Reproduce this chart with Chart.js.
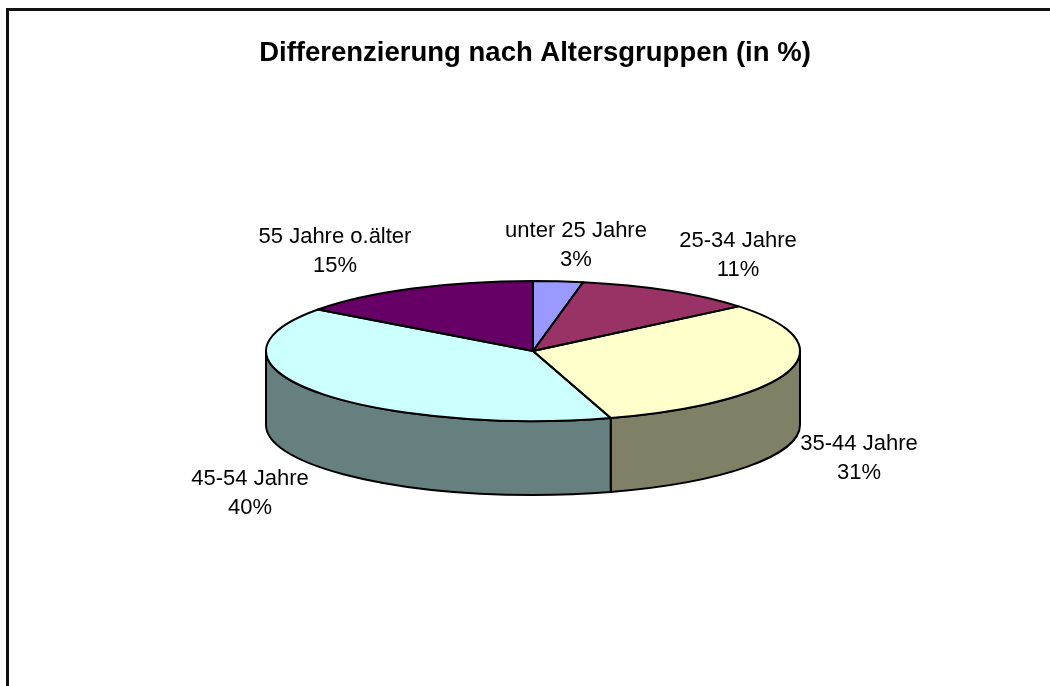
<!DOCTYPE html>
<html lang="de">
<head>
  <meta charset="UTF-8" />
  <title>Differenzierung nach Altersgruppen</title>
  <script src="https://cdn.jsdelivr.net/npm/chart.js"></script>
  <style>
    html, body { margin: 0; background: #fff; overflow: hidden; }
    canvas { display: block; }
  </style>
</head>
<body>
  <canvas id="grafico" width="1050" height="686"></canvas>

  <script>
    const titel = 'Differenzierung nach Altersgruppen (in %)';
    const gruppen = ['unter 25 Jahre', '25-34 Jahre', '35-44 Jahre', '45-54 Jahre', '55 Jahre o.älter'];
    // read from the slice edges, the labels show them rounded
    const anteile = [3, 11, 31.3, 39.8, 14.9];
    const farben = ['#9999ff', '#993366', '#ffffcc', '#ccffff', '#660066'];
    const seitenFarben = ['#4c4c80', '#4c1a33', '#808066', '#668080', '#330033'];

    // placement of the flattened pie and its labels
    const mitteX = 533, mitteY = 351;
    const radiusX = 267, radiusY = 70, tiefe = 74;
    const labelMitten = [[576, 231], [738, 241], [859, 444], [250, 479], [335, 237]];

    const pie3d = {
      id: 'pie3d',
      beforeDraw(chart) {
        // frame is only closed on top and left in the original
        const ctx = chart.ctx;
        ctx.fillStyle = '#111';
        ctx.fillRect(6, 8, 1044, 3);
        ctx.fillRect(6, 8, 3, 678);
      },
      beforeDatasetsDraw(chart) {
        const ctx = chart.ctx;
        const arcs = chart.getDatasetMeta(0).data;
        ctx.lineWidth = 2;
        ctx.lineJoin = 'round';
        ctx.strokeStyle = '#000';

        // side wall, only the part of each slice facing the viewer
        arcs.forEach((arc, i) => {
          const von = Math.max(arc.startAngle, 0);
          const bis = Math.min(arc.endAngle, Math.PI);
          if (bis <= von) return;
          ctx.beginPath();
          ctx.ellipse(mitteX, mitteY, radiusX, radiusY, 0, von, bis);
          ctx.ellipse(mitteX, mitteY + tiefe, radiusX, radiusY, 0, bis, von, true);
          ctx.closePath();
          ctx.fillStyle = seitenFarben[i];
          ctx.fill();
          ctx.stroke();
        });

        // squash the circle the library draws into the top ellipse
        ctx.save();
        ctx.translate(mitteX, mitteY);
        ctx.scale(1, radiusY / radiusX);
        ctx.translate(-arcs[0].x, -arcs[0].y);
      },
      afterDatasetsDraw(chart) {
        const ctx = chart.ctx;
        ctx.restore();

        const arcs = chart.getDatasetMeta(0).data;
        arcs.forEach((arc) => {
          ctx.beginPath();
          ctx.moveTo(mitteX, mitteY);
          ctx.ellipse(mitteX, mitteY, radiusX, radiusY, 0, arc.startAngle, arc.endAngle);
          ctx.closePath();
          ctx.stroke();
        });

        ctx.fillStyle = '#000';
        ctx.font = '22px "Liberation Sans"';
        ctx.textAlign = 'center';
        ctx.textBaseline = 'middle';
        gruppen.forEach((name, i) => {
          const [x, y] = labelMitten[i];
          ctx.fillText(name, x, y);
          ctx.fillText(Math.round(anteile[i]) + '%', x, y + 29);
        });
      }
    };

    new Chart(document.getElementById('grafico'), {
      type: 'pie',
      data: {
        labels: gruppen,
        datasets: [{
          data: anteile,
          backgroundColor: farben,
          borderWidth: 0,
          radius: radiusX,
          clip: false
        }]
      },
      options: {
        responsive: false,
        animation: false,
        events: [],
        layout: { padding: { left: 20, top: 37 } },
        plugins: {
          legend: { display: false },
          tooltip: { enabled: false },
          title: {
            display: true,
            text: titel,
            color: '#000',
            font: { family: '"Liberation Sans"', size: 27.5, weight: 'bold' },
            padding: 0
          }
        }
      },
      plugins: [pie3d]
    });
  </script>
</body>
</html>
